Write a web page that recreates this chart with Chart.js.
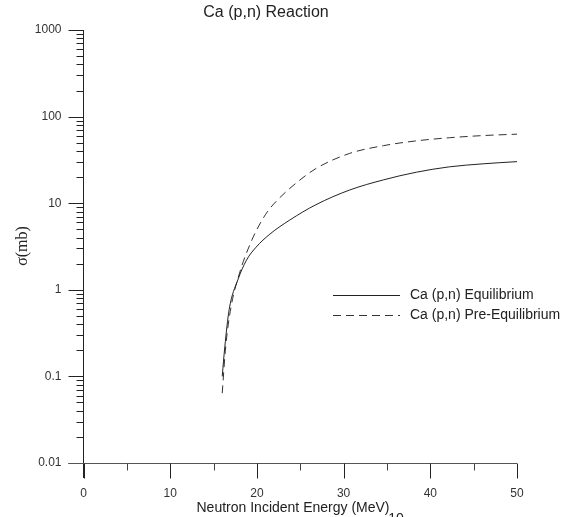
<!DOCTYPE html>
<html>
<head>
<meta charset="utf-8">
<script src="https://cdn.jsdelivr.net/npm/chart.js@4.4.0/dist/chart.umd.min.js"></script>
<style>
  html, body { margin: 0; padding: 0; background: #fff; }
</style>
</head>
<body>
<canvas id="grafico" width="566" height="517"></canvas>
<script>
// Datos
const energiaEq = [16, 16.3, 16.8, 17.8, 18.8, 19.9, 21.5, 23.8, 26.8, 30.7, 34.6, 38.4, 42.2, 46.1, 50];
const sigmaEq = [0.1, 0.22, 0.59, 1.3, 2.2, 3.1, 4.4, 6.4, 9.6, 14.2, 18.6, 22.8, 26.3, 28.5, 30.2];

const energiaPre = [16, 16.4, 17, 18, 19.4, 20.4, 21.3, 22.5, 24.5, 26.8, 30.7, 34.6, 38.4, 42.2, 46.1, 50];
const sigmaPre = [0.064, 0.22, 0.62, 1.56, 3.72, 5.9, 8.2, 11.2, 17, 25.1, 37.6, 46.2, 52.5, 57, 60.4, 62.7];

const etiquetas = ['Ca (p,n) Equilibrium', 'Ca (p,n) Pre-Equilibrium'];
const decadasY = [0.01, 0.1, 1, 10, 100, 1000];
const etiquetasY = ['0.01', '0.1', '1', '10', '100', '1000'];
const ticksX = [0, 10, 20, 30, 40, 50];

const puntos = (xs, ys) => xs.map((x, i) => ({ x: x, y: ys[i] }));

// Ejes, marcas, títulos y leyenda dibujados a mano
const ejes = {
    id: 'ejes',
    afterDraw(chart) {
        const c = chart.ctx;
        const sx = chart.scales.x;
        const sy = chart.scales.y;
        const a = chart.chartArea;
        c.save();
        c.lineWidth = 1;

        // eje Y
        c.strokeStyle = '#222';
        c.beginPath();
        c.moveTo(a.left, sy.getPixelForValue(1000));
        c.lineTo(a.left, a.bottom + 15);
        c.stroke();
        decadasY.forEach((d, i) => {
            const y = Math.round(sy.getPixelForValue(d)) + 0.5;
            c.beginPath();
            c.moveTo(a.left - 15, y);
            c.lineTo(a.left, y);
            c.stroke();
            if (i < decadasY.length - 1) {
                for (let k = 2; k <= 9; k++) {
                    const ym = Math.round(sy.getPixelForValue(d * k)) + 0.5;
                    c.beginPath();
                    c.moveTo(a.left - 7, ym);
                    c.lineTo(a.left, ym);
                    c.stroke();
                }
            }
        });

        // eje X
        c.strokeStyle = '#555';
        const yb = Math.round(a.bottom) + 0.5;
        c.beginPath();
        c.moveTo(a.left - 15, yb);
        c.lineTo(sx.getPixelForValue(50), yb);
        c.stroke();
        for (let v = 0; v <= 50; v += 5) {
            const x = Math.round(sx.getPixelForValue(v)) + 0.5;
            c.strokeStyle = v % 10 === 0 ? '#222' : '#444';
            c.beginPath();
            c.moveTo(x, yb);
            c.lineTo(x, yb + (v % 10 === 0 ? 15 : 7));
            c.stroke();
        }

        // títulos
        c.fillStyle = '#222';
        c.font = '16px "Liberation Sans", Arial, sans-serif';
        c.textAlign = 'center';
        c.textBaseline = 'middle';
        c.fillText('Ca (p,n) Reaction', 266, 13);

        c.font = '14px "Liberation Sans", Arial, sans-serif';
        c.fillText('Neutron Incident Energy (MeV)', 293, 508);
        c.textBaseline = 'top';
        c.fillText('10', 396, 512);

        c.save();
        c.translate(23, 246);
        c.rotate(-Math.PI / 2);
        c.font = '16px "Liberation Serif", "Times New Roman", serif';
        c.textBaseline = 'middle';
        c.fillText('σ(mb)', 0, 0);
        c.restore();

        // leyenda
        c.font = '14px "Liberation Sans", Arial, sans-serif';
        c.textAlign = 'left';
        c.textBaseline = 'middle';
        chart.data.datasets.forEach((ds, i) => {
            const y = 295 + i * 20;
            c.strokeStyle = ds.borderColor;
            c.setLineDash(ds.borderDash || []);
            c.beginPath();
            c.moveTo(333, y + 0.5);
            c.lineTo(400, y + 0.5);
            c.stroke();
            c.setLineDash([]);
            c.fillText(ds.label, 410, y);
        });
        c.restore();
    }
};

const grafico = document.getElementById('grafico').getContext('2d');
new Chart(grafico, {
    type: 'line',
    data: {
        datasets: [
            {
                label: etiquetas[0],
                data: puntos(energiaEq, sigmaEq),
                borderColor: '#222',
                borderWidth: 1,
                pointRadius: 0,
                cubicInterpolationMode: 'monotone',
                fill: false
            },
            {
                label: etiquetas[1],
                data: puntos(energiaPre, sigmaPre),
                borderColor: '#333',
                borderWidth: 1,
                borderDash: [8, 5],
                pointRadius: 0,
                cubicInterpolationMode: 'monotone',
                fill: false
            }
        ]
    },
    options: {
        responsive: false,
        animation: false,
        layout: { padding: { top: 30, right: 49, left: 0, bottom: 0 } },
        plugins: {
            legend: { display: false },
            title: { display: false },
            tooltip: { enabled: false }
        },
        scales: {
            x: {
                type: 'linear',
                min: 0,
                max: 50,
                afterBuildTicks: s => { s.ticks = ticksX.map(v => ({ value: v })); },
                ticks: {
                    padding: 23,
                    maxRotation: 0,
                    color: '#333',
                    font: { family: '"Liberation Sans", Arial, sans-serif', size: 12 }
                },
                grid: { display: false, drawTicks: false },
                border: { display: false },
                afterFit: s => { s.height = 54; }
            },
            y: {
                type: 'logarithmic',
                min: 0.01,
                max: 1000,
                afterBuildTicks: s => { s.ticks = decadasY.map(v => ({ value: v })); },
                ticks: {
                    padding: 22,
                    autoSkip: false,
                    color: '#333',
                    font: { family: '"Liberation Sans", Arial, sans-serif', size: 12 },
                    callback: (v) => {
                        const i = decadasY.findIndex(d => Math.abs(Math.log10(d) - Math.log10(v)) < 1e-6);
                        return i >= 0 ? etiquetasY[i] : '';
                    }
                },
                grid: { display: false, drawTicks: false },
                border: { display: false },
                afterFit: s => { s.width = 83.5; }
            }
        }
    },
    plugins: [ejes]
});
</script>
</body>
</html>
